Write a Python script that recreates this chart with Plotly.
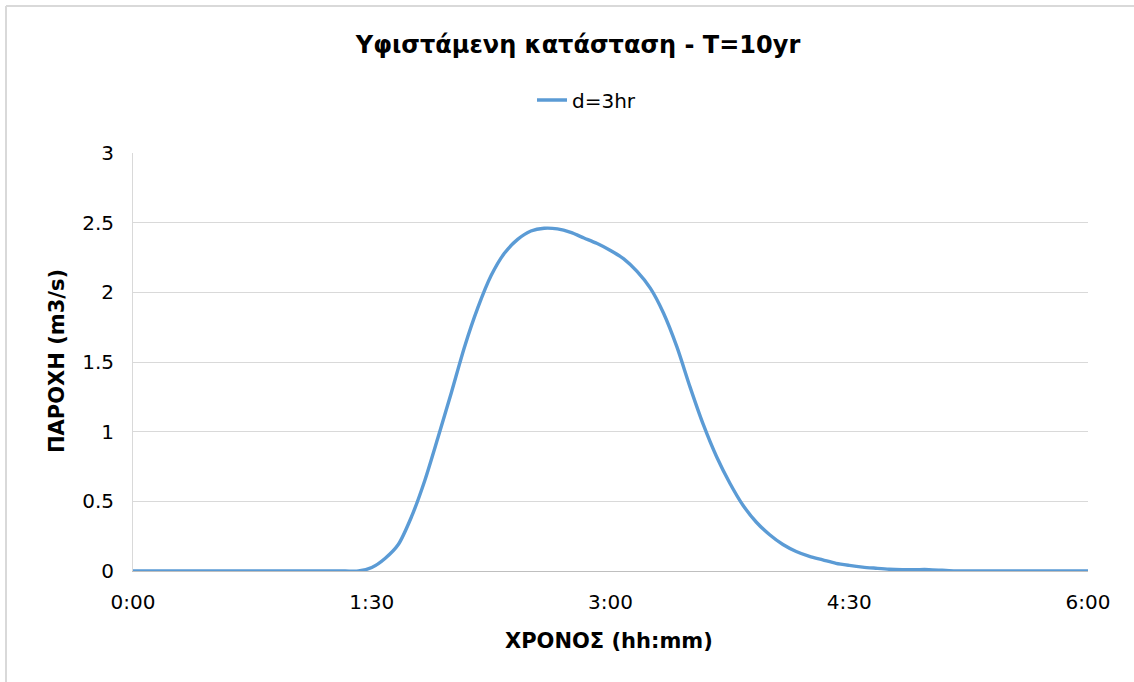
import plotly.graph_objects as go

# time in minutes (5-minute steps)
time_min = list(range(0, 365, 5))
discharge = [
    0, 0, 0, 0, 0, 0, 0, 0, 0, 0, 0, 0, 0, 0, 0, 0, 0,   # 0..80
    0.0,    # 85
    0.025,  # 90
    0.09,   # 95
    0.19,   # 100
    0.39,   # 105
    0.65,   # 110
    0.96,   # 115
    1.28,   # 120
    1.61,   # 125
    1.89,   # 130
    2.12,   # 135
    2.28,   # 140
    2.38,   # 145
    2.44,   # 150
    2.46,   # 155
    2.455,  # 160
    2.43,   # 165
    2.39,   # 170
    2.35,   # 175
    2.30,   # 180
    2.24,   # 185
    2.15,   # 190
    2.03,   # 195
    1.85,   # 200
    1.61,   # 205
    1.32,   # 210
    1.05,   # 215
    0.82,   # 220
    0.63,   # 225
    0.47,   # 230
    0.35,   # 235
    0.26,   # 240
    0.19,   # 245
    0.14,   # 250
    0.105,  # 255
    0.08,   # 260
    0.055,  # 265
    0.04,   # 270
    0.028,  # 275
    0.02,   # 280
    0.013,  # 285
    0.01,   # 290
    0.01,   # 295
    0.01,   # 300
    0.005,  # 305
    0, 0, 0, 0, 0, 0, 0, 0, 0, 0, 0,  # 310..360
]

x_tick_vals = [0, 90, 180, 270, 360]
x_tick_text = ["0:00", "1:30", "3:00", "4:30", "6:00"]
y_tick_vals = [0, 0.5, 1, 1.5, 2, 2.5, 3]
y_tick_text = ["0", "0.5", "1", "1.5", "2", "2.5", "3"]

title_text = "Υφιστάμενη κατάσταση - T=10yr"
series_name = "d=3hr"
x_title = "ΧΡΟΝΟΣ (hh:mm)"
y_title = "ΠΑΡΟΧΗ (m3/s)"

FONT = "DejaVu Sans"

fig = go.Figure()
fig.add_trace(go.Scatter(
    x=time_min, y=discharge, mode="lines", name=series_name,
    line=dict(color="#5b9bd5", width=3.4, shape="spline", smoothing=0.8),
))

W, H = 1134, 682
L, R, T, B = 133, 1088, 153, 571

fig.update_layout(
    width=W, height=H,
    margin=dict(l=L, r=W - R, t=T, b=H - B, autoexpand=False),
    paper_bgcolor="white", plot_bgcolor="white",
    font=dict(family=FONT, size=20, color="#000000"),
    title=dict(text="<b>" + title_text + "</b>", x=578 / W, xref="container",
               xanchor="center", y=1 - 45 / H, yref="container", yanchor="middle",
               font=dict(family=FONT, size=24, color="#000000")),
    showlegend=True,
    legend=dict(orientation="h", x=(532 - L) / (R - L), xanchor="left",
                y=(B - 100) / (B - T), yanchor="middle",
                font=dict(family=FONT, size=20, color="#000000"),
                bgcolor="rgba(0,0,0,0)"),
    xaxis=dict(range=[0, 360], tickvals=x_tick_vals, ticktext=x_tick_text,
               showgrid=False, zeroline=False, showline=True,
               linecolor="#bfbfbf", linewidth=1, ticks="",
               ticklabelstandoff=13, fixedrange=True),
    yaxis=dict(range=[0, 3], tickvals=y_tick_vals, ticktext=y_tick_text,
               showgrid=True, gridcolor="#d9d9d9", gridwidth=1,
               zeroline=False, showline=True, linecolor="#d9d9d9",
               linewidth=1, ticks="", ticklabelstandoff=14, fixedrange=True),
    annotations=[
        dict(text="<b>" + x_title + "</b>", xref="paper", yref="paper",
             x=(609 - L) / (R - L), y=(B - 641) / (B - T), xanchor="center",
             yanchor="middle", showarrow=False,
             font=dict(family=FONT, size=21, color="#000000")),
        dict(text="<b>" + y_title + "</b>", xref="paper", yref="paper",
             x=(57 - L) / (R - L), y=(B - 361) / (B - T), xanchor="center",
             yanchor="middle", textangle=-90, showarrow=False,
             font=dict(family=FONT, size=21, color="#000000")),
    ],
    shapes=[
        dict(type="line", xref="paper", yref="paper",
             x0=(6 - L) / (R - L), x1=(1140 - L) / (R - L),
             y0=(B - 6) / (B - T), y1=(B - 6) / (B - T),
             line=dict(color="#d9d9d9", width=2)),
        dict(type="line", xref="paper", yref="paper",
             x0=(6 - L) / (R - L), x1=(6 - L) / (R - L),
             y0=(B - 6) / (B - T), y1=(B - 690) / (B - T),
             line=dict(color="#d9d9d9", width=2)),
    ],
)

fig.write_html("out.html", config={"displayModeBar": False},
               post_script="document.body.style.margin='0';")
